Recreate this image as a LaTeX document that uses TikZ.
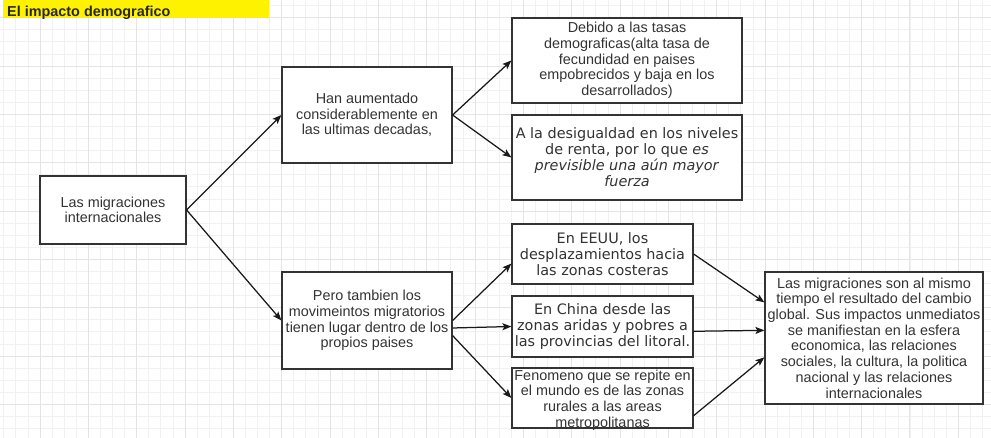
\documentclass[tikz,border=0pt]{standalone}
\usepackage{fontspec}
\setmainfont{Liberation Sans}
\newfontfamily\dvfont{DejaVu Sans}
\usetikzlibrary{arrows.meta}
\definecolor{txt}{HTML}{333333}
\definecolor{minorg}{HTML}{F1F1F1}
\definecolor{majorg}{HTML}{E4E4E4}
\begin{document}
\begin{tikzpicture}[x=1pt,y=-1pt,
  box/.style={draw=txt, line width=1.2pt, fill=white, align=center, text=txt, inner sep=0pt,
              font=\fontsize{14.4}{15.7}\selectfont},
  dvbox/.style={box, font=\dvfont\fontsize{14.4}{16}\selectfont},
  plain/.style={align=center, text=txt, inner sep=0pt, font=\fontsize{14.4}{15.7}\selectfont},
  arr/.style={line width=1.25pt, draw=black!90, -{Stealth[length=9pt,width=7pt,inset=2pt]}},
  minorline/.style={draw=minorg, line width=0.8pt},
  majorline/.style={draw=majorg, line width=0.9pt}
  ]
\useasboundingbox (0,0) rectangle (991,438);
\fill[white] (0,0) rectangle (991,438);
% grid
\foreach \i in {0,...,81} \draw[minorline] ({3.75+12.083*\i},0) -- ({3.75+12.083*\i},438);
\foreach \j in {0,...,35} \draw[minorline] (0,{5.6+12.083*\j}) -- (991,{5.6+12.083*\j});
\foreach \i in {1,...,20} \draw[majorline] ({-8.33+48.33*\i},0) -- ({-8.33+48.33*\i},438);
\foreach \j in {0,...,8} \draw[majorline] (0,{17.7+48.33*\j}) -- (991,{17.7+48.33*\j});
% title
\fill[yellow] (3,0) rectangle (269,18);
\node[anchor=base west, inner sep=0pt, text=black!85, font=\bfseries\fontsize{14.4}{16}\selectfont] (title) at (7,16.5) {El impacto demografico};
% boxes
\node[box, minimum width=146pt, minimum height=68pt] (b1) at (113,210) {Las migraciones\\internacionales};
\node[box, minimum width=170pt, minimum height=96pt] (b2) at (367,115) {Han aumentado\\considerablemente en\\las ultimas decadas,};
\node[box, minimum width=230pt, minimum height=85pt] (b3) at (627,60.5) {Debido a las tasas\\demograficas(alta tasa de\\fecundidad en paises\\empobrecidos y baja en los\\desarrollados)};
\node[dvbox, minimum width=230pt, minimum height=85pt] (b4) at (627,157.5) {A la desigualdad en los niveles\\de renta, por lo que \textit{es}\\\textit{previsible una aún mayor}\\\textit{fuerza}};
\node[box, minimum width=170pt, minimum height=97pt] (b5) at (367,320.5) {Pero tambien los\\movimeintos migratorios\\tienen lugar dentro de los\\propios paises};
\node[dvbox, minimum width=181pt, minimum height=60pt] (b6) at (602.5,254) {En EEUU, los\\desplazamientos hacia\\las zonas costeras};
\node[dvbox, minimum width=181pt, minimum height=61pt] (b7) at (602.5,326.5) {En China desde las\\zonas aridas y pobres a\\las provincias del litoral.};
\node[box, minimum width=181pt, minimum height=60pt] (b8) at (602.5,398) {};
\node[plain] (b8t) at (602.5,400) {Fenomeno que se repite en\\el mundo es de las zonas\\rurales a las areas\\metropolitanas};
\node[box, minimum width=218pt, minimum height=132pt] (b9) at (874,338) {Las migraciones son al mismo\\tiempo el resultado del cambio\\global. Sus impactos unmediatos\\se manifiestan en la esfera\\economica, las relaciones\\sociales, la cultura, la politica\\nacional y las relaciones\\internacionales};
% arrows
\draw[arr] (b1.east) -- (b2.west);
\draw[arr] (b1.east) -- (b5.west);
\draw[arr] (b2.east) -- (b3.west);
\draw[arr] (b2.east) -- (b4.west);
\draw[arr] (b5.east) -- (b6.186);
\draw[arr] (b5.355) -- (b7.west);
\draw[arr] (b5.350) -- (b8.west);
\draw[arr] (b6.east) -- (b9.162);
\draw[arr] (b7.357) -- (b9.176);
\draw[arr] (b8.349) -- (b9.190);
\end{tikzpicture}
\end{document}
